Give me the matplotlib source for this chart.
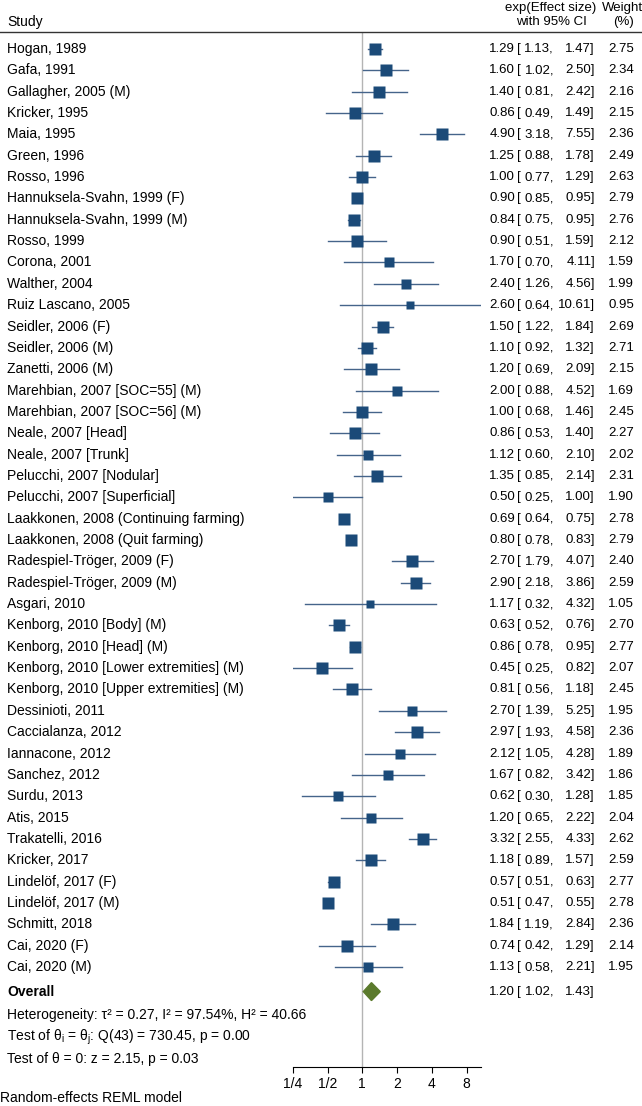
import matplotlib
matplotlib.use("Agg")
import matplotlib.pyplot as plt
from matplotlib.transforms import blended_transform_factory
import numpy as np

plt.rcParams['font.family'] = ['Liberation Sans', 'DejaVu Sans']
plt.rcParams['mathtext.fontset'] = 'custom'
plt.rcParams['mathtext.rm'] = 'Liberation Sans'
plt.rcParams['mathtext.it'] = 'Liberation Sans:italic'

studies = [
    "Hogan, 1989", "Gafa, 1991", "Gallagher, 2005 (M)", "Kricker, 1995", "Maia, 1995",
    "Green, 1996", "Rosso, 1996", "Hannuksela-Svahn, 1999 (F)", "Hannuksela-Svahn, 1999 (M)",
    "Rosso, 1999", "Corona, 2001", "Walther, 2004", "Ruiz Lascano, 2005", "Seidler, 2006 (F)",
    "Seidler, 2006 (M)", "Zanetti, 2006 (M)", "Marehbian, 2007 [SOC=55] (M)",
    "Marehbian, 2007 [SOC=56] (M)", "Neale, 2007 [Head]", "Neale, 2007 [Trunk]",
    "Pelucchi, 2007 [Nodular]", "Pelucchi, 2007 [Superficial]",
    "Laakkonen, 2008 (Continuing farming)", "Laakkonen, 2008 (Quit farming)",
    "Radespiel-Tröger, 2009 (F)", "Radespiel-Tröger, 2009 (M)", "Asgari, 2010",
    "Kenborg, 2010 [Body] (M)", "Kenborg, 2010 [Head] (M)",
    "Kenborg, 2010 [Lower extremities] (M)", "Kenborg, 2010 [Upper extremities] (M)",
    "Dessinioti, 2011", "Caccialanza, 2012", "Iannacone, 2012", "Sanchez, 2012",
    "Surdu, 2013", "Atis, 2015", "Trakatelli, 2016", "Kricker, 2017",
    "Lindelöf, 2017 (F)", "Lindelöf, 2017 (M)", "Schmitt, 2018", "Cai, 2020 (F)",
    "Cai, 2020 (M)",
]
est = [1.29, 1.60, 1.40, 0.86, 4.90, 1.25, 1.00, 0.90, 0.84, 0.90, 1.70, 2.40, 2.60, 1.50,
       1.10, 1.20, 2.00, 1.00, 0.86, 1.12, 1.35, 0.50, 0.69, 0.80, 2.70, 2.90, 1.17, 0.63,
       0.86, 0.45, 0.81, 2.70, 2.97, 2.12, 1.67, 0.62, 1.20, 3.32, 1.18, 0.57, 0.51, 1.84,
       0.74, 1.13]
lower = [1.13, 1.02, 0.81, 0.49, 3.18, 0.88, 0.77, 0.85, 0.75, 0.51, 0.70, 1.26, 0.64, 1.22,
         0.92, 0.69, 0.88, 0.68, 0.53, 0.60, 0.85, 0.25, 0.64, 0.78, 1.79, 2.18, 0.32, 0.52,
         0.78, 0.25, 0.56, 1.39, 1.93, 1.05, 0.82, 0.30, 0.65, 2.55, 0.89, 0.51, 0.47, 1.19,
         0.42, 0.58]
upper = [1.47, 2.50, 2.42, 1.49, 7.55, 1.78, 1.29, 0.95, 0.95, 1.59, 4.11, 4.56, 10.61, 1.84,
         1.32, 2.09, 4.52, 1.46, 1.40, 2.10, 2.14, 1.00, 0.75, 0.83, 4.07, 3.86, 4.32, 0.76,
         0.95, 0.82, 1.18, 5.25, 4.58, 4.28, 3.42, 1.28, 2.22, 4.33, 1.57, 0.63, 0.55, 2.84,
         1.29, 2.21]
weight = [2.75, 2.34, 2.16, 2.15, 2.36, 2.49, 2.63, 2.79, 2.76, 2.12, 1.59, 1.99, 0.95, 2.69,
          2.71, 2.15, 1.69, 2.45, 2.27, 2.02, 2.31, 1.90, 2.78, 2.79, 2.40, 2.59, 1.05, 2.70,
          2.77, 2.07, 2.45, 1.95, 2.36, 1.89, 1.86, 1.85, 2.04, 2.62, 2.59, 2.77, 2.78, 2.36,
          2.14, 1.95]
overall = (1.20, 1.02, 1.43)
ticks = [0.25, 0.5, 1, 2, 4, 8]
tick_labels = ["1/4", "1/2", "1", "2", "4", "8"]

W, H = 642, 1106
fig = plt.figure(figsize=(W / 100, H / 100), dpi=100)

# pixel layout
row0, step = 49.0, 21.35
top_px, bot_px = 32.0, 1067.0
left_px, right_px = 292.7, 480.9
ax = fig.add_axes([left_px / W, 1 - bot_px / H, (right_px - left_px) / W, (bot_px - top_px) / H])
ax.set_xscale('log', base=2)
ax.set_xlim(0.25, 10.61)
ax.set_ylim((bot_px - row0) / step, (top_px - row0) / step)
for s in ['top', 'left', 'right']:
    ax.spines[s].set_visible(False)
ax.spines['bottom'].set_linewidth(0.8)
ax.set_yticks([])
ax.set_xticks(ticks)
ax.set_xticklabels(tick_labels)
ax.minorticks_off()
ax.tick_params(axis='x', direction='out', length=4, width=0.8, labelsize=10, pad=3)
ax.patch.set_visible(False)

ax.axvline(1, color='#b4b4b4', lw=1, zorder=0)

fs = 10
fn = 9.5
# column edges (pixels)
x_est, x_br, x_lo, x_hi, x_w = 515, 517, 554, 595, 634
tr = blended_transform_factory(fig.transFigure, ax.transData)


def ci_text(y, e, lo, hi):
    ax.text(x_est / W, y, f"{e:.2f}", transform=tr, fontsize=fn, va='center', ha='right')
    ax.text(x_br / W, y, "[", transform=tr, fontsize=fn, va='center', ha='left')
    ax.text(x_lo / W, y, f"{lo:.2f},", transform=tr, fontsize=fn, va='center', ha='right')
    ax.text(x_hi / W, y, f"{hi:.2f}]", transform=tr, fontsize=fn, va='center', ha='right')


n = len(studies)
for i in range(n):
    ax.plot([lower[i], upper[i]], [i, i], color='#45648a', lw=1.0, zorder=2)
    side = 7.7 * np.sqrt(weight[i])
    ax.plot(est[i], i, marker='s', ms=side * 0.72, color='#1b4a78', mec='none', zorder=3)
    ax.text(7 / W, i, studies[i], transform=tr, fontsize=fs, va='center', ha='left')
    ci_text(i, est[i], lower[i], upper[i])
    ax.text(x_w / W, i, f"{weight[i]:.2f}", transform=tr, fontsize=fn, va='center', ha='right')

# overall diamond
yo = 44.15
oe, ol, oh = overall
ax.fill([ol, oe, oh, oe], [yo, yo - 0.42, yo, yo + 0.42], color='#5b7a2c', zorder=3)
ax.text(7 / W, yo, "Overall", transform=tr, fontsize=fs, va='center', ha='left', fontweight='bold')
ci_text(yo, oe, ol, oh)

ax.text(7 / W, 45.25, "Heterogeneity: τ² = 0.27, I² = 97.54%, H² = 40.66",
        transform=tr, fontsize=fs, va='center', ha='left')
ax.text(7 / W, 46.3, r"Test of θ$_\mathregular{i}$ = θ$_\mathregular{j}$: Q(43) = 730.45, p = 0.00",
        transform=tr, fontsize=fs, va='center', ha='left')
ax.text(7 / W, 47.3, "Test of θ = 0: z = 2.15, p = 0.03",
        transform=tr, fontsize=fs, va='center', ha='left')

# header
fig.add_artist(plt.Line2D([0, 1], [1 - top_px / H, 1 - top_px / H], color='#333333', lw=1.0))
fig.text(7 / W, 1 - 22 / H, "Study", fontsize=fs, va='center', ha='left')
fig.text(551 / W, 1 - 8 / H, "exp(Effect size)", fontsize=fn, va='center', ha='center')
fig.text(551 / W, 1 - 22 / H, "with 95% CI", fontsize=fn, va='center', ha='center')
fig.text(623 / W, 1 - 8 / H, "Weight", fontsize=fn, va='center', ha='center')
fig.text(623 / W, 1 - 22 / H, "(%)", fontsize=fn, va='center', ha='center')

fig.text(0 / W, 1 - 1098 / H, "Random-effects REML model", fontsize=fs, va='center', ha='left')

fig.savefig("out.png", dpi=100)
